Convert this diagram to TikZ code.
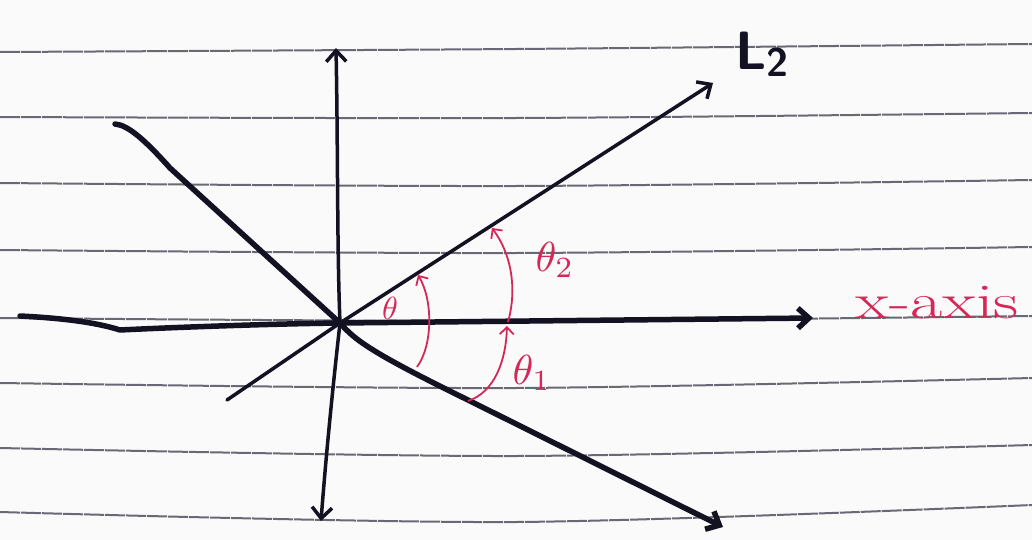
\documentclass[tikz,border=0pt]{standalone}
\usetikzlibrary{arrows.meta}
\definecolor{paper}{RGB}{250,250,250}
\definecolor{rule}{RGB}{105,105,118}
\definecolor{ink}{RGB}{18,18,34}
\definecolor{pen}{RGB}{212,40,88}
\tikzset{
  ruled/.style={rule, line width=2pt, dash pattern=on 20pt off 1pt},
  thick ink/.style={ink, line width=5.5pt, line cap=round, line join=round},
  thin ink/.style={ink, line width=3.5pt, line cap=round, line join=round},
  barb/.style={-{Straight Barb[length=11pt,width=20pt]}},
  dbarb/.style={{Straight Barb[length=11pt,width=20pt]}-{Straight Barb[length=11pt,width=20pt]}},
  anglearc/.style={pen, line width=1.8pt, -{Straight Barb[length=7pt,width=14pt]}},
  lbl/.style={pen, inner sep=0pt}
}
\begin{document}
\begin{tikzpicture}[x=1pt,y=-1pt]
\useasboundingbox (0,0) rectangle (1032,540);
\fill[paper] (0,0) rectangle (1032,540);
% ruled lines of the paper
\foreach \l/\m/\r in {52/49/44, 117/118/113, 183/186/180, 250/253/247, 318/321/316, 383/388/378, 448/456/445, 512/522/505}
  \draw[ruled] plot[smooth] coordinates {(0,\l) (516,\m) (1032,\r)};
% named points
\coordinate (O) at (340,323);
\coordinate (ytop) at (336,48);
\coordinate (ybot) at (321,521);
\coordinate (xleft) at (20,316);
\coordinate (xright) at (813,318);
\coordinate (Ltwolo) at (227,400);
\coordinate (Ltwohi) at (713,83);
\coordinate (Lonehi) at (115,124);
\coordinate (Lonelo) at (723,527);
% y-axis
\draw[thin ink, dbarb] (ybot) .. controls (328,430) and (337,350) .. (O) .. controls (337,250) and (338,150) .. (ytop);
% x-axis
\draw[thick ink, barb] (xleft) .. controls (60,318) and (95,322) .. (120,330) .. controls (160,328) and (260,324) .. (O) -- (xright);
% line L2
\draw[thin ink, barb] (Ltwolo) -- (O) -- (Ltwohi);
% line L1
\draw[thick ink, barb] (Lonehi) .. controls (128,125) and (145,140) .. (170,168) -- (O) .. controls (355,340) and (370,352) .. (468,400) -- (Lonelo);
% label L2
\node[ink, inner sep=0pt, font=\sffamily\bfseries\fontsize{54}{54}\selectfont] (Ltwolabel) at (762,54) {L\raisebox{-7pt}{\fontsize{40}{40}\selectfont 2}};
% angle arcs
\coordinate (a1) at (417,367);
\coordinate (a2) at (418,275);
\draw[anglearc] (a1) .. controls (433,345) and (433,300) .. (a2);
\coordinate (b1) at (508,322);
\coordinate (b2) at (492,228);
\draw[anglearc] (b1) .. controls (517,290) and (512,255) .. (b2);
\coordinate (c1) at (468,401);
\coordinate (c2) at (507,326);
\draw[anglearc] (c1) .. controls (495,392) and (506,360) .. (c2);
% angle labels
\node[lbl] (th) at (390,308) {\scalebox{3.2}{$\theta$}};
\node[lbl] (th2) at (555,260) {\scalebox{4.2}{$\theta_2$}};
\node[lbl] (th1) at (532,373) {\scalebox{4.2}{$\theta_1$}};
% x-axis label
\node[lbl, anchor=base west, font=\fontsize{50}{50}\selectfont] (xlabel) at (855,318) {\scalebox{1.4}[1]{x-axis}};
\end{tikzpicture}
\end{document}
